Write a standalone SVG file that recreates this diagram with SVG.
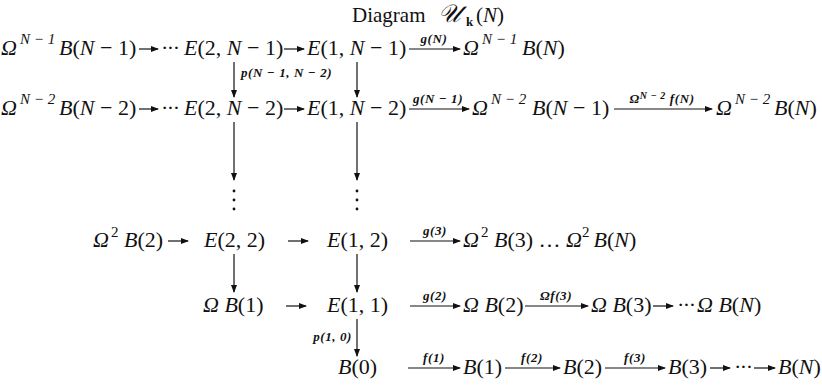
<svg xmlns="http://www.w3.org/2000/svg" width="822" height="388" viewBox="0 0 822 388">
<defs>
<style>
text { font-family: "Liberation Serif", "DejaVu Serif", serif; fill: #111; }
.m { font-size: 22px; }
.i { font-style: italic; }
.sup { font-size: 15px; font-style: italic; }
.supn { font-size: 15px; }
.dd { letter-spacing: -1.5px; }
.lbl { font-size: 13px; font-style: italic; font-weight: bold; letter-spacing: 0.6px; }
.t { font-size: 21px; }
.c line { stroke: #111; stroke-width: 1.2; marker-end: url(#ah); }
.dot { fill: #111; }
</style>
<marker id="ah" markerWidth="8" markerHeight="6" refX="7" refY="3" orient="auto" markerUnits="userSpaceOnUse">
<path d="M0,0 L8,3 L0,6 Z" fill="#111"/>
</marker>
</defs>
<rect width="822" height="388" fill="#fff"/>

<g id="title">
<text class="t" y="22"><tspan x="352">Diagram</tspan><tspan x="438" class="i" font-size="25" font-family="DejaVu Serif">𝒰</tspan><tspan x="466" font-size="13" font-weight="bold" dy="4">k</tspan><tspan x="476" dy="-4">(</tspan><tspan class="i">N</tspan>)</text>
</g>

<!-- Row 1 -->
<g id="n_r1_omb">
<text class="m" y="55"><tspan x="1" class="i">Ω</tspan><tspan class="sup" x="20" y="44">N − 1</tspan><tspan x="59" y="55" class="i">B</tspan>(<tspan class="i">N</tspan> − 1)</text>
</g>
<g id="n_r1_dots">
<text class="m dd" x="161" y="55">···</text>
</g>
<g id="n_r1_e2">
<text class="m" x="184" y="55"><tspan class="i">E</tspan>(2, <tspan class="i">N</tspan> − 1)</text>
</g>
<g id="n_r1_e1">
<text class="m" x="307" y="55"><tspan class="i">E</tspan>(1, <tspan class="i">N</tspan> − 1)</text>
</g>
<g id="n_r1_ombn">
<text class="m" y="55"><tspan x="463" class="i">Ω</tspan><tspan class="sup" x="482" y="44">N − 1</tspan><tspan x="522" y="55" class="i">B</tspan>(<tspan class="i">N</tspan>)</text>
</g>

<!-- Row 2 -->
<g id="n_r2_omb">
<text class="m" y="115"><tspan x="1" class="i">Ω</tspan><tspan class="sup" x="20" y="104">N − 2</tspan><tspan x="59" y="115" class="i">B</tspan>(<tspan class="i">N</tspan> − 2)</text>
</g>
<g id="n_r2_dots">
<text class="m dd" x="161" y="115">···</text>
</g>
<g id="n_r2_e2">
<text class="m" x="184" y="115"><tspan class="i">E</tspan>(2, <tspan class="i">N</tspan> − 2)</text>
</g>
<g id="n_r2_e1">
<text class="m" x="307" y="115"><tspan class="i">E</tspan>(1, <tspan class="i">N</tspan> − 2)</text>
</g>
<g id="n_r2_ombn1">
<text class="m" y="115"><tspan x="472" class="i">Ω</tspan><tspan class="sup" x="491" y="104">N − 2</tspan><tspan x="532" y="115" class="i">B</tspan>(<tspan class="i">N</tspan> − 1)</text>
</g>
<g id="n_r2_ombn">
<text class="m" y="115"><tspan x="716" class="i">Ω</tspan><tspan class="sup" x="735" y="104">N − 2</tspan><tspan x="774" y="115" class="i">B</tspan>(<tspan class="i">N</tspan>)</text>
</g>

<!-- vertical dots -->
<g id="vdots">
<circle class="dot" cx="234" cy="191" r="1.4"/><circle class="dot" cx="234" cy="200" r="1.4"/><circle class="dot" cx="234" cy="209" r="1.4"/>
<circle class="dot" cx="357" cy="191" r="1.4"/><circle class="dot" cx="357" cy="200" r="1.4"/><circle class="dot" cx="357" cy="209" r="1.4"/>
</g>

<!-- Row 3 -->
<g id="n_r3_omb2">
<text class="m" y="247"><tspan x="93" class="i">Ω</tspan><tspan class="supn" x="111" y="237">2</tspan><tspan x="124" y="247" class="i">B</tspan>(2)</text>
</g>
<g id="n_r3_e2">
<text class="m" x="204" y="247"><tspan class="i">E</tspan>(2, 2)</text>
</g>
<g id="n_r3_e1">
<text class="m" x="327" y="247"><tspan class="i">E</tspan>(1, 2)</text>
</g>
<g id="n_r3_right">
<text class="m" y="247"><tspan x="463" class="i">Ω</tspan><tspan class="supn" x="481" y="237">2</tspan><tspan x="494" y="247" class="i">B</tspan>(3) … <tspan class="i">Ω</tspan><tspan class="supn" dy="-10">2</tspan><tspan class="i" dx="4" dy="10">B</tspan>(<tspan class="i">N</tspan>)</text>
</g>

<!-- Row 4 -->
<g id="n_r4_omb1">
<text class="m" x="203" y="312"><tspan class="i">Ω B</tspan>(1)</text>
</g>
<g id="n_r4_e1">
<text class="m" x="327" y="312"><tspan class="i">E</tspan>(1, 1)</text>
</g>
<g id="n_r4_omb2">
<text class="m" x="463" y="312"><tspan class="i">Ω B</tspan>(2)</text>
</g>
<g id="n_r4_omb3">
<text class="m" x="591" y="312"><tspan class="i">Ω B</tspan>(3)</text>
</g>
<g id="n_r4_dots">
<text class="m dd" x="677" y="312">···</text>
</g>
<g id="n_r4_ombn">
<text class="m" x="697" y="312"><tspan class="i">Ω B</tspan>(<tspan class="i">N</tspan>)</text>
</g>

<!-- Row 5 -->
<g id="n_r5_b0">
<text class="m" x="338" y="374"><tspan class="i">B</tspan>(0)</text>
</g>
<g id="n_r5_b1">
<text class="m" x="463" y="374"><tspan class="i">B</tspan>(1)</text>
</g>
<g id="n_r5_b2">
<text class="m" x="563" y="374"><tspan class="i">B</tspan>(2)</text>
</g>
<g id="n_r5_b3">
<text class="m" x="668" y="374"><tspan class="i">B</tspan>(3)</text>
</g>
<g id="n_r5_dots">
<text class="m dd" x="734" y="374">···</text>
</g>
<g id="n_r5_bn">
<text class="m" x="778" y="374"><tspan class="i">B</tspan>(<tspan class="i">N</tspan>)</text>
</g>

<g id="connectors" class="c">
<!-- row 1 -->
<line x1="139" y1="49" x2="158" y2="49"/>
<line x1="284" y1="49" x2="304" y2="49"/>
<line x1="409" y1="49" x2="460" y2="49"/>
<!-- row 2 -->
<line x1="139" y1="109" x2="158" y2="109"/>
<line x1="284" y1="109" x2="304" y2="109"/>
<line x1="409" y1="109" x2="469" y2="109"/>
<line x1="614" y1="109" x2="712" y2="109"/>
<!-- row 3 -->
<line x1="168" y1="241" x2="188" y2="241"/>
<line x1="288" y1="241" x2="308" y2="241"/>
<line x1="410" y1="241" x2="460" y2="241"/>
<!-- row 4 -->
<line x1="286" y1="306" x2="306" y2="306"/>
<line x1="410" y1="306" x2="460" y2="306"/>
<line x1="525" y1="306" x2="588" y2="306"/>
<line x1="653" y1="306" x2="673" y2="306"/>
<!-- row 5 -->
<line x1="408" y1="368" x2="460" y2="368"/>
<line x1="505" y1="368" x2="560" y2="368"/>
<line x1="605" y1="368" x2="665" y2="368"/>
<line x1="710" y1="368" x2="730" y2="368"/>
<line x1="754" y1="368" x2="775" y2="368"/>
<!-- verticals -->
<line x1="234" y1="62" x2="234" y2="97"/>
<line x1="357" y1="62" x2="357" y2="97"/>
<line x1="234" y1="122" x2="234" y2="180"/>
<line x1="357" y1="122" x2="357" y2="180"/>
<line x1="234" y1="254" x2="234" y2="292"/>
<line x1="357" y1="254" x2="357" y2="292"/>
<line x1="357" y1="319" x2="357" y2="356"/>
</g>

<g id="labels">
<text class="lbl" x="434" y="43" text-anchor="middle">g(N)</text>
<text class="lbl" x="438" y="103" text-anchor="middle">g(N − 1)</text>
<text class="lbl" x="662" y="103" text-anchor="middle">Ω<tspan font-size="10" dy="-4">N − 2</tspan><tspan dy="4"> f(N)</tspan></text>
<text class="lbl" x="435" y="235" text-anchor="middle">g(3)</text>
<text class="lbl" x="435" y="300" text-anchor="middle">g(2)</text>
<text class="lbl" x="556" y="300" text-anchor="middle">Ωf(3)</text>
<text class="lbl" x="434" y="362" text-anchor="middle">f(1)</text>
<text class="lbl" x="532" y="362" text-anchor="middle">f(2)</text>
<text class="lbl" x="635" y="362" text-anchor="middle">f(3)</text>
<text class="lbl" x="241" y="77">p(N − 1, N − 2)</text>
<text class="lbl" x="352" y="341" text-anchor="end">p(1, 0)</text>
</g>
</svg>
